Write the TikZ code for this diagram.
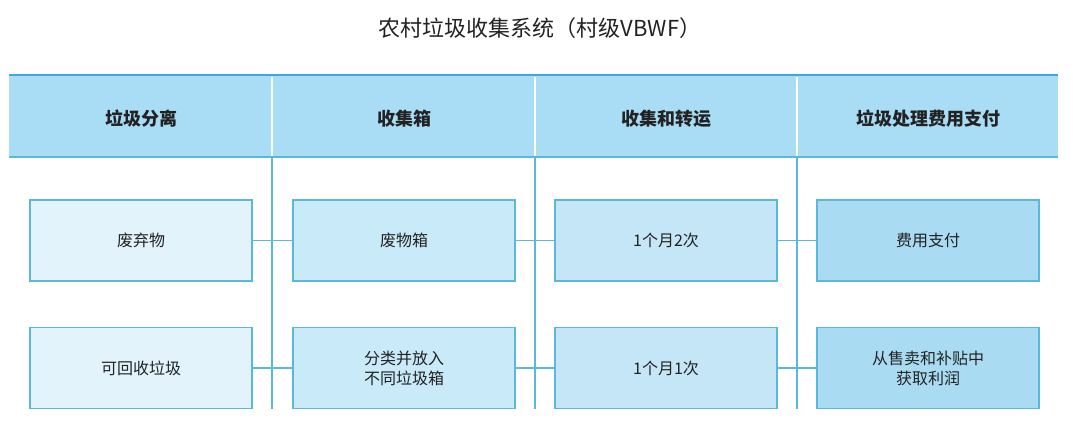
\documentclass[tikz,border=0pt]{standalone}
\usepackage{fontspec}
\newfontfamily\cjk{Noto Sans CJK SC}
\definecolor{hdr}{HTML}{A8DDF5}
\definecolor{edge}{HTML}{5BB8D8}
\definecolor{topl}{HTML}{3FA9DA}
\definecolor{fa}{HTML}{E2F3FB}
\definecolor{fb}{HTML}{C9EAF8}
\definecolor{fc}{HTML}{C4E6F7}
\definecolor{fd}{HTML}{A9DCF3}
\definecolor{txt}{HTML}{222222}
\begin{document}
\begin{tikzpicture}[x=1pt,y=-1pt,
  cell/.style={draw=edge,line width=1.5pt,minimum width=222pt,minimum height=81pt,inner sep=0pt,align=center,font=\cjk\fontsize{16}{20}\selectfont,text=txt},
  hd/.style={font=\cjk\bfseries\fontsize{18}{22}\selectfont,text=txt},
  conn/.style={draw=edge,line width=1.5pt}]
\useasboundingbox (0,0) rectangle (1080,431);
\fill[hdr] (9,75) rectangle (1058,157);
\draw[topl,line width=2.5pt] (9,75) -- (1058,75);
\draw[edge,line width=1.5pt] (9,157) -- (1058,157);
\foreach \x in {272,535,797}{
  \draw[white,line width=2pt] (\x,77) -- (\x,156);
  \draw[edge,line width=1.5pt] (\x,157) -- (\x,409);}
\node[font=\cjk\fontsize{22}{26}\selectfont,text=txt] (title) at (540,28) {农村垃圾收集系统（村级VBWF）};
\node[hd] (h1) at (141,119) {垃圾分离};
\node[hd] (h2) at (404,119) {收集箱};
\node[hd] (h3) at (666,119) {收集和转运};
\node[hd] (h4) at (928,119) {垃圾处理费用支付};
\node[cell,fill=fa] (a1) at (141,240.5) {废弃物};
\node[cell,fill=fb] (b1) at (404,240.5) {废物箱};
\node[cell,fill=fc] (c1) at (666,240.5) {1个月2次};
\node[cell,fill=fd] (d1) at (928,240.5) {费用支付};
\node[cell,fill=fa] (a2) at (141,368) {可回收垃圾};
\node[cell,fill=fb] (b2) at (404,368) {分类并放入\\不同垃圾箱};
\node[cell,fill=fc] (c2) at (666,368) {1个月1次};
\node[cell,fill=fd] (d2) at (928,368) {从售卖和补贴中\\获取利润};
\foreach \p/\q in {a1/b1,b1/c1,c1/d1,a2/b2,b2/c2,c2/d2}
  \draw[conn] (\p.east) -- (\q.west);
\end{tikzpicture}
\end{document}
